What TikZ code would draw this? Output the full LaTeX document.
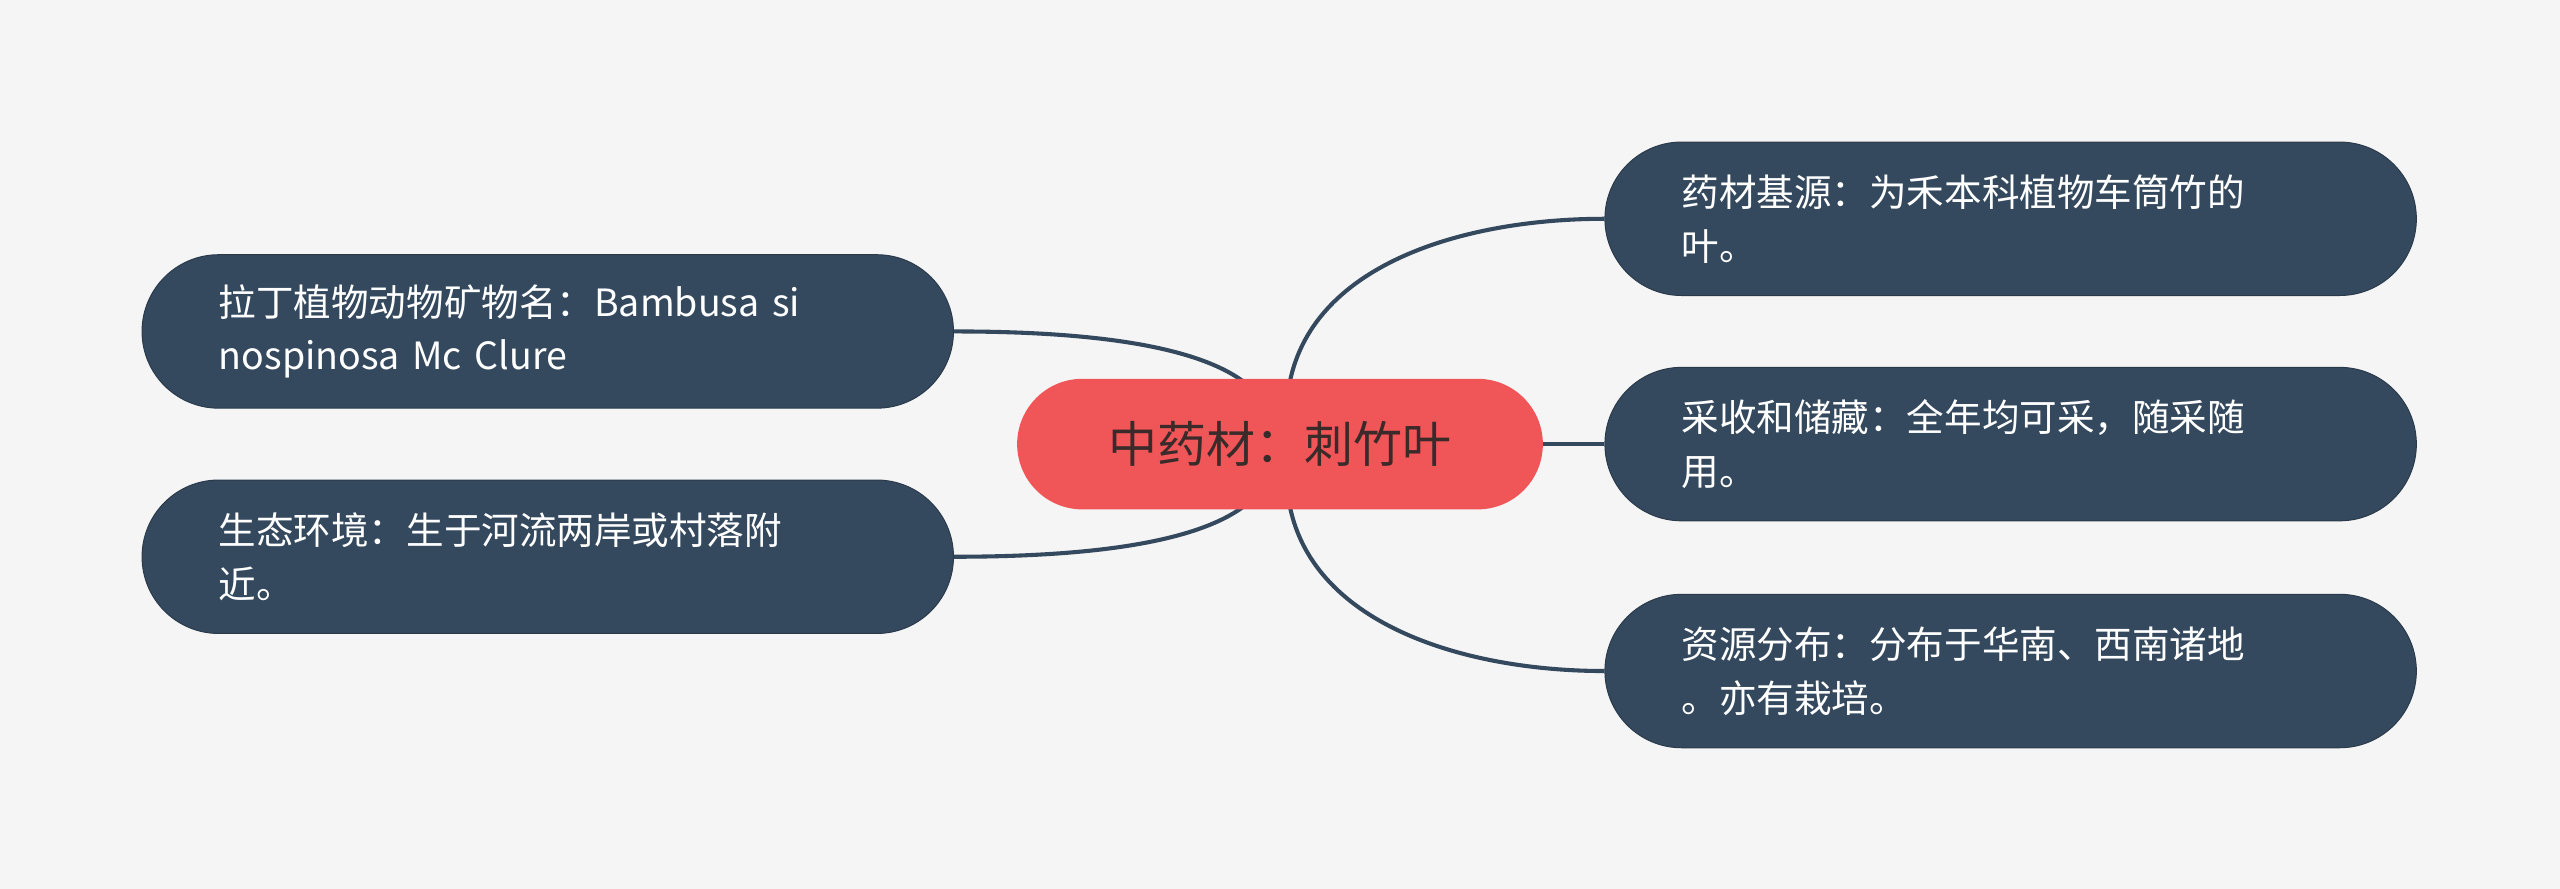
\documentclass[tikz,border=0pt]{standalone}
\usepackage{fontspec}
\setmainfont{Noto Sans CJK SC}
\begin{document}
\begin{tikzpicture}[x=1pt,y=-1pt,
  leaf/.style={fill=leafc,draw=leafc!80!black,line width=0.6pt,rounded corners=47pt,minimum width=497pt,minimum height=94pt,text=white,font=\fontsize{23}{33}\selectfont,align=left,text width=403pt,inner xsep=47pt},
  root/.style={fill=rootc,rounded corners=40pt,minimum width=322pt,minimum height=80pt,text=roott,font=\fontsize{30}{36}\selectfont},
  link/.style={draw=leafc,line width=2.5pt}]
\definecolor{leafc}{HTML}{34495E}
\definecolor{rootc}{HTML}{F05557}
\definecolor{roott}{HTML}{3A2A2A}
\definecolor{bgc}{HTML}{F5F5F5}
\fill[bgc] (0,0) rectangle (1568,544.5);
\useasboundingbox (0,0) rectangle (1568,544.5);
\node[leaf] (r1) at (1231.5,134) {药材基源：为禾本科植物车筒竹的\\叶。};
\node[leaf] (r2) at (1231.5,272) {采收和储藏：全年均可采，随采随\\用。};
\node[leaf] (r3) at (1231.5,411) {资源分布：分布于华南、西南诸地\\。亦有栽培。};
\node[leaf] (l1) at (335.5,203) {拉丁植物动物矿物名：Bambusa si\\nospinosa Mc Clure};
\node[leaf] (l2) at (335.5,341) {生态环境：生于河流两岸或村落附\\近。};
\coordinate (a1) at (790,234);
\coordinate (a3) at (790,310);
\coordinate (b1) at (762,234);
\coordinate (b2) at (762,310);
\draw[link] (a1) .. controls (805,160) and (900,134) .. (r1.west);
\draw[link] (a3) .. controls (805,384) and (900,411) .. (r3.west);
\draw[link] (945,272) -- (r2.west);
\draw[link] (b1) .. controls (730,210) and (660,203) .. (l1.east);
\draw[link] (b2) .. controls (730,334) and (660,341) .. (l2.east);
\node[root] (c) at (784,272) {中药材：刺竹叶};
\end{tikzpicture}
\end{document}
